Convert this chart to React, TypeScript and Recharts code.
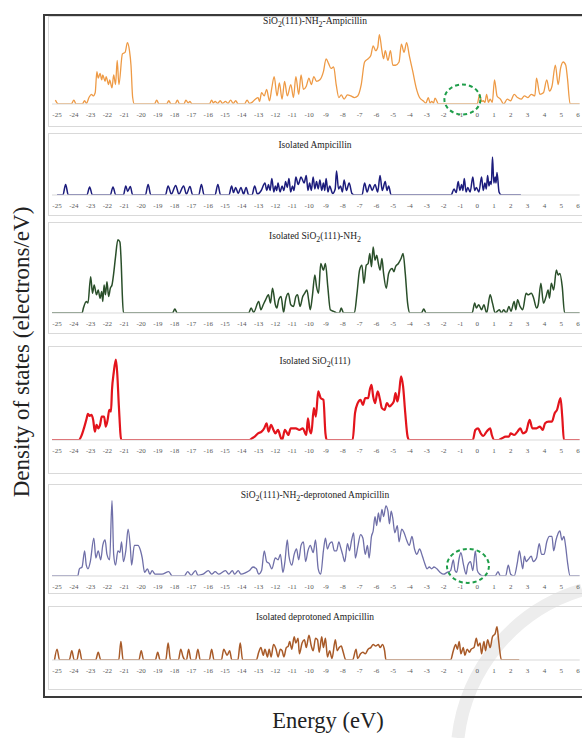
import { LineChart, Line, XAxis, YAxis, ReferenceDot } from 'recharts';

type Pt = [number, number];

/* ─── Energy axis ─────────────────────────────────────────────────────────── */

const ENERGY_TICKS = [
  -25, -24, -23, -22, -21, -20, -19, -18, -17, -16, -15, -14, -13, -12, -11, -10,
  -9, -8, -7, -6, -5, -4, -3, -2, -1, 0, 1, 2, 3, 4, 5, 6,
];
const E_MIN = -25.3;
const E_MAX = 6.1;

/* ─── DOS curves [energy eV, states] ─────────────────────────────────────── */

const complexDos: Pt[] = [
  [-25.1, 1.2], [-24.92, 0], [-24.15, 0], [-24.0, 1.2], [-23.87, 0], [-23.5, 0], [-23.36, 1.0], [-23.25, 0.2],
  [-23.1, 2.0], [-22.95, 3.0], [-22.85, 2.5], [-22.73, 3.5], [-22.63, 10.0], [-22.55, 8.0], [-22.44, 9.5],
  [-22.34, 7.5], [-22.28, 9.0], [-22.14, 7.0], [-22.08, 8.5], [-21.93, 6.0], [-21.87, 7.5], [-21.73, 5.0],
  [-21.63, 9.0], [-21.52, 6.0], [-21.42, 13.5], [-21.32, 6.0], [-21.11, 15.5], [-20.95, 16.0], [-20.81, 19.0],
  [-20.69, 16.5], [-20.6, 12.0], [-20.5, 2.0], [-20.4, 0],
  [-19.2, 0], [-19.07, 1.2], [-18.94, 0], [-18.48, 0], [-18.35, 1.0], [-18.22, 0], [-17.97, 0], [-17.84, 1.2],
  [-17.71, 0], [-17.45, 0], [-17.33, 1.2], [-17.2, 0.3], [-17.09, 0.8], [-16.97, 0],
  [-15.93, 0], [-15.8, 1.2], [-15.7, 0.3], [-15.59, 0.8], [-15.45, 0.2], [-15.29, 1.0], [-15.15, 0.2],
  [-14.98, 0.8], [-14.83, 0.2], [-14.67, 1.2], [-14.52, 0.2], [-14.37, 1.0], [-14.22, 0], [-13.85, 0],
  [-13.69, 1.2], [-13.55, 0.2], [-13.4, 0.5], [-13.2, 1.5], [-13.04, 2.0], [-12.95, 0.8], [-12.83, 3.5],
  [-12.67, 2.5], [-12.53, 4.5], [-12.36, 1.0], [-12.22, 5.0], [-12.08, 8.5], [-11.91, 2.5], [-11.77, 6.5],
  [-11.61, 1.5], [-11.46, 7.0], [-11.3, 2.5], [-11.09, 6.0], [-10.93, 2.0], [-10.79, 8.5], [-10.62, 3.0],
  [-10.48, 9.0], [-10.34, 4.5], [-10.17, 5.5], [-10.01, 8.0], [-9.87, 6.0], [-9.72, 8.5], [-9.56, 7.0],
  [-9.36, 7.5], [-9.15, 10.0], [-8.99, 14.0], [-8.84, 12.5], [-8.7, 11.0], [-8.54, 11.5], [-8.39, 6.0],
  [-8.23, 2.0], [-8.09, 2.8], [-7.92, 1.5], [-7.72, 2.8], [-7.52, 2.5], [-7.31, 2.0], [-7.11, 2.5],
  [-6.9, 6.0], [-6.7, 13.0], [-6.49, 14.0], [-6.33, 15.0], [-6.19, 18.0], [-6.04, 16.5], [-5.92, 17.5],
  [-5.82, 21.5], [-5.67, 16.5], [-5.57, 14.0], [-5.47, 16.5], [-5.31, 13.5], [-5.16, 16.5], [-5.02, 12.0],
  [-4.86, 12.0], [-4.65, 13.0], [-4.51, 18.5], [-4.35, 16.0], [-4.2, 19.0], [-4.04, 15.0], [-3.83, 10.0],
  [-3.63, 5.0], [-3.43, 2.0], [-3.22, 1.0], [-3.05, 0.3], [-2.91, 2.0], [-2.8, 0.3], [-2.71, 0.8],
  [-2.6, 0.3], [-2.51, 1.8], [-2.3, 0],
  [0.0, 0], [0.15, 3.0], [0.26, 0.8], [0.36, 1.0], [0.46, 0.5], [0.56, 3.0], [0.67, 0.5], [0.77, 1.5],
  [0.9, 0.5], [1.03, 7.5], [1.18, 2.5], [1.38, 1.5], [1.58, 0], [1.79, 1.5], [1.99, 1.0], [2.2, 3.0],
  [2.4, 2.0], [2.61, 1.5], [2.81, 2.5], [3.02, 2.0], [3.22, 3.0], [3.43, 2.5], [3.53, 8.0], [3.73, 3.0],
  [3.94, 3.5], [4.14, 7.5], [4.3, 4.0], [4.45, 5.5], [4.65, 12.0], [4.82, 6.0], [4.96, 11.0], [5.12, 13.0],
  [5.27, 12.0], [5.37, 8.0], [5.53, 0], [6.1, 0],
];

const ampicillinDos: Pt[] = [
  [-25, 0], [-24.65, 0], [-24.49, 3.5], [-24.33, 0], [-23.22, 0], [-23.06, 2.7], [-22.9, 0], [-21.83, 0],
  [-21.67, 2.7], [-21.51, 0], [-21.05, 0], [-20.91, 3.0], [-20.8, 1.2], [-20.64, 2.8], [-20.5, 0],
  [-19.74, 0], [-19.58, 3.5], [-19.42, 0], [-18.55, 0], [-18.39, 3.0], [-18.2, 0.3], [-17.94, 3.2],
  [-17.75, 0.3], [-17.47, 3.0], [-17.3, 0.3], [-17.09, 2.8], [-16.93, 0], [-16.57, 0], [-16.41, 3.5],
  [-16.25, 0], [-15.6, 0], [-15.43, 3.5], [-15.27, 0], [-14.77, 0], [-14.61, 3.0], [-14.5, 0.8],
  [-14.37, 2.5], [-14.22, 0.5], [-14.06, 2.5], [-13.9, 0.3], [-13.75, 2.5], [-13.6, 0], [-13.4, 0],
  [-13.24, 3.0], [-13.08, 0.3], [-12.85, 1.5], [-12.63, 4.0], [-12.52, 1.5], [-12.42, 3.5], [-12.32, 1.5],
  [-12.22, 5.5], [-12.1, 1.0], [-12.01, 3.0], [-11.93, 1.5], [-11.85, 4.0], [-11.73, 1.0], [-11.61, 3.0],
  [-11.5, 1.5], [-11.4, 4.5], [-11.3, 2.5], [-11.2, 5.5], [-11.1, 1.0], [-10.99, 3.0], [-10.9, 1.5],
  [-10.79, 6.0], [-10.65, 3.5], [-10.48, 6.0], [-10.3, 4.0], [-10.17, 6.5], [-10.07, 1.5], [-9.97, 4.0],
  [-9.87, 1.5], [-9.76, 6.0], [-9.66, 2.0], [-9.56, 4.5], [-9.46, 2.0], [-9.36, 5.0], [-9.25, 1.5],
  [-9.15, 4.0], [-9.07, 1.5], [-8.99, 5.5], [-8.88, 1.0], [-8.78, 3.0], [-8.6, 0.5], [-8.45, 2.0],
  [-8.37, 8.0], [-8.25, 2.0], [-8.13, 3.0], [-8.02, 1.0], [-7.92, 5.0], [-7.78, 1.5], [-7.62, 4.0],
  [-7.45, 0.5], [-7.3, 0], [-6.85, 0], [-6.7, 4.0], [-6.55, 1.0], [-6.39, 3.5], [-6.25, 1.5], [-6.08, 3.5],
  [-5.92, 1.0], [-5.78, 6.5], [-5.65, 1.5], [-5.47, 4.5], [-5.37, 1.5], [-5.27, 3.0], [-5.12, 0],
  [-1.55, 0], [-1.38, 2.0], [-1.25, 0.8], [-1.13, 4.5], [-1.03, 1.5], [-0.93, 3.5], [-0.85, 1.5],
  [-0.77, 5.5], [-0.66, 1.0], [-0.56, 2.5], [-0.42, 1.0], [-0.26, 6.0], [-0.15, 1.5], [-0.05, 2.5],
  [0.1, 1.0], [0.26, 6.0], [0.36, 1.5], [0.46, 4.0], [0.54, 2.0], [0.62, 6.5], [0.7, 3.0], [0.77, 4.5],
  [0.84, 3.5], [0.91, 12.7], [0.99, 4.0], [1.07, 6.0], [1.12, 4.0], [1.18, 7.5], [1.3, 1.0], [1.44, 0],
  [2.6, 0],
];

const surfaceNh2Dos: Pt[] = [
  [-25.3, 0], [-23.51, 0], [-23.43, 1.5], [-23.26, 3.5], [-23.16, 3.0], [-23.0, 11.0], [-22.89, 6.0],
  [-22.79, 8.5], [-22.65, 5.5], [-22.55, 7.0], [-22.44, 4.5], [-22.34, 6.5], [-22.28, 3.5], [-22.2, 8.5],
  [-22.12, 5.5], [-22.03, 9.5], [-21.93, 5.0], [-21.83, 7.5], [-21.73, 8.5], [-21.63, 12.0], [-21.52, 17.0],
  [-21.38, 22.2], [-21.26, 21.5], [-21.18, 15.0], [-21.12, 6.0], [-21.05, 0],
  [-18.13, 0], [-17.99, 1.2], [-17.85, 0], [-13.6, 0], [-13.45, 1.5], [-13.3, 0.2], [-13.0, 3.5],
  [-12.87, 1.0], [-12.73, 2.5], [-12.59, 4.0], [-12.42, 5.5], [-12.3, 3.0], [-12.18, 7.5], [-12.01, 2.5],
  [-11.92, 1.5], [-11.81, 4.0], [-11.67, 5.0], [-11.52, 0.2], [-11.4, 4.0], [-11.24, 6.0], [-11.09, 2.5],
  [-10.93, 2.0], [-10.79, 5.0], [-10.69, 5.5], [-10.54, 2.0], [-10.38, 5.0], [-10.26, 6.0], [-10.13, 7.0],
  [-10.03, 4.0], [-9.93, 1.0], [-9.81, 5.0], [-9.66, 11.5], [-9.56, 8.0], [-9.44, 6.0], [-9.31, 15.0],
  [-9.15, 13.0], [-9.03, 15.0], [-8.89, 8.0], [-8.74, 1.0], [-8.54, 0.5], [-8.33, 0], [-8.2, 0],
  [-8.09, 1.5], [-7.95, 0], [-7.31, 0], [-7.15, 6.0], [-7.0, 13.0], [-6.86, 14.5], [-6.74, 9.0],
  [-6.6, 14.5], [-6.49, 15.0], [-6.39, 18.0], [-6.29, 14.0], [-6.19, 20.0], [-6.08, 16.0], [-5.98, 17.5],
  [-5.88, 15.0], [-5.78, 13.0], [-5.67, 16.5], [-5.57, 12.0], [-5.41, 7.5], [-5.27, 12.0], [-5.06, 13.5],
  [-4.96, 12.5], [-4.86, 14.0], [-4.69, 15.0], [-4.53, 16.5], [-4.41, 18.0], [-4.28, 12.0], [-4.14, 3.0],
  [-4.0, 0], [-3.32, 0], [-3.18, 1.2], [-3.04, 0], [-0.3, 0], [-0.15, 3.0], [-0.05, 1.5], [0.09, 2.5],
  [0.26, 1.0], [0.4, 2.5], [0.56, 0], [0.77, 5.5], [0.91, 3.0], [1.07, 0], [1.32, 1.0], [1.44, 0],
  [1.58, 1.0], [1.73, 0], [1.89, 2.0], [2.01, 0.5], [2.2, 3.5], [2.3, 1.0], [2.4, 4.0], [2.55, 2.0],
  [2.71, 1.0], [2.91, 6.0], [3.02, 5.5], [3.22, 6.0], [3.36, 4.5], [3.53, 1.5], [3.63, 2.5], [3.79, 9.0],
  [3.94, 3.0], [4.1, 5.0], [4.22, 7.0], [4.3, 4.5], [4.41, 9.0], [4.55, 7.0], [4.71, 13.0], [4.82, 11.5],
  [4.92, 12.0], [5.06, 8.0], [5.2, 0], [6.1, 0],
];

const surfaceDos: Pt[] = [
  [-25.3, 0], [-23.71, 0], [-23.57, 1.0], [-23.43, 3.0], [-23.26, 6.0], [-23.16, 7.8], [-23.06, 7.2],
  [-22.96, 7.5], [-22.85, 6.0], [-22.75, 2.5], [-22.65, 4.5], [-22.55, 3.5], [-22.44, 4.5], [-22.34, 7.0],
  [-22.2, 7.0], [-22.1, 4.0], [-21.99, 6.0], [-21.89, 9.0], [-21.79, 8.5], [-21.73, 15.0], [-21.63, 20.0],
  [-21.5, 24.0], [-21.42, 20.0], [-21.32, 10.0], [-21.18, 0],
  [-13.55, 0], [-13.4, 0.5], [-13.24, 1.0], [-13.04, 2.0], [-12.83, 2.5], [-12.67, 3.5], [-12.53, 5.0],
  [-12.42, 2.5], [-12.26, 4.5], [-12.12, 3.0], [-12.01, 2.0], [-11.85, 3.0], [-11.71, 1.0], [-11.61, 0],
  [-11.44, 3.0], [-11.36, 2.5], [-11.24, 1.5], [-11.09, 3.5], [-10.79, 3.5], [-10.58, 3.0], [-10.38, 3.5],
  [-10.17, 1.5], [-10.07, 6.5], [-9.97, 3.0], [-9.87, 2.0], [-9.72, 9.5], [-9.6, 7.0], [-9.46, 14.5],
  [-9.31, 12.5], [-9.15, 12.0], [-9.03, 2.0], [-8.95, 0],
  [-7.41, 0], [-7.27, 8.0], [-7.11, 11.0], [-6.94, 12.0], [-6.8, 10.5], [-6.66, 12.5], [-6.49, 12.5],
  [-6.39, 15.0], [-6.29, 16.5], [-6.19, 13.0], [-6.08, 11.0], [-5.92, 14.5], [-5.78, 12.0], [-5.67, 9.5],
  [-5.51, 9.0], [-5.37, 11.0], [-5.22, 10.0], [-5.1, 10.5], [-4.96, 11.5], [-4.86, 14.0], [-4.75, 11.5],
  [-4.65, 14.0], [-4.53, 19.0], [-4.41, 16.0], [-4.28, 8.0], [-4.14, 1.0], [-4.04, 0],
  [-0.26, 0], [-0.11, 3.0], [0.05, 3.5], [0.21, 2.0], [0.36, 1.2], [0.56, 2.5], [0.77, 3.5], [0.87, 1.5],
  [1.03, 0], [1.28, 0], [1.48, 0.5], [1.69, 1.0], [1.89, 1.0], [1.99, 2.0], [2.2, 1.5], [2.4, 2.5],
  [2.57, 3.5], [2.71, 2.0], [2.91, 2.5], [3.12, 6.0], [3.28, 3.5], [3.53, 3.5], [3.73, 4.0], [3.9, 3.0],
  [4.04, 5.0], [4.24, 5.5], [4.45, 5.5], [4.61, 8.0], [4.75, 9.0], [4.96, 12.5], [5.06, 7.0], [5.16, 0],
  [6.1, 0],
];

const complexDeprotDos: Pt[] = [
  [-25.3, 0], [-23.77, 0], [-23.67, 2.0], [-23.51, 2.5], [-23.36, 7.0], [-23.26, 3.0], [-23.16, 2.0],
  [-23.02, 4.0], [-22.81, 10.5], [-22.69, 5.0], [-22.55, 7.0], [-22.4, 4.5], [-22.28, 8.5], [-22.14, 10.0],
  [-22.03, 6.0], [-21.87, 4.5], [-21.73, 20.9], [-21.63, 6.0], [-21.52, 3.0], [-21.38, 7.0], [-21.26, 6.5],
  [-21.16, 9.5], [-21.05, 4.0], [-20.91, 7.0], [-20.77, 13.0], [-20.64, 8.0], [-20.56, 3.0], [-20.4, 8.5],
  [-20.19, 8.5], [-20.03, 7.0], [-19.93, 5.0], [-19.79, 1.0], [-19.62, 2.0], [-19.48, 0.5], [-19.34, 1.5],
  [-19.17, 0.5], [-18.97, 0.5], [-18.76, 0.5], [-18.35, 1.2], [-18.15, 0], [-17.43, 0], [-17.23, 1.2],
  [-17.02, 0.2], [-16.76, 1.5], [-16.62, 0.2], [-16.31, 0.5], [-16.0, 1.5], [-15.8, 0.5], [-15.59, 1.2],
  [-15.39, 0.5], [-14.98, 1.5], [-14.78, 0.5], [-14.57, 1.5], [-14.43, 0.5], [-14.22, 1.5], [-14.06, 0.5],
  [-13.75, 1.0], [-13.55, 1.5], [-13.34, 2.5], [-13.14, 2.0], [-13.0, 0.5], [-12.83, 1.5], [-12.67, 7.0],
  [-12.53, 4.0], [-12.38, 3.5], [-12.22, 2.0], [-12.01, 5.0], [-11.85, 4.5], [-11.71, 6.0], [-11.56, 1.0],
  [-11.44, 4.0], [-11.3, 10.0], [-11.2, 5.5], [-11.03, 3.0], [-10.89, 6.0], [-10.75, 7.5], [-10.62, 4.5],
  [-10.48, 8.5], [-10.34, 9.5], [-10.21, 4.0], [-10.07, 7.0], [-9.93, 8.5], [-9.76, 6.5], [-9.62, 10.0],
  [-9.46, 2.0], [-9.31, 0.5], [-9.15, 7.0], [-9.03, 10.5], [-8.91, 7.5], [-8.78, 9.0], [-8.64, 9.5],
  [-8.5, 7.0], [-8.37, 7.0], [-8.23, 9.5], [-8.13, 8.0], [-8.01, 6.0], [-7.88, 4.0], [-7.72, 9.0],
  [-7.6, 7.0], [-7.47, 10.0], [-7.35, 12.0], [-7.25, 5.0], [-7.11, 8.0], [-6.94, 11.5], [-6.8, 10.5],
  [-6.66, 6.0], [-6.53, 8.5], [-6.43, 5.0], [-6.29, 11.0], [-6.19, 12.5], [-6.08, 16.5], [-5.98, 14.0],
  [-5.88, 17.5], [-5.78, 15.0], [-5.67, 18.5], [-5.57, 16.5], [-5.43, 19.5], [-5.31, 18.0], [-5.22, 14.5],
  [-5.12, 18.0], [-5.02, 16.0], [-4.9, 12.0], [-4.75, 14.0], [-4.65, 9.5], [-4.49, 13.0], [-4.35, 12.0],
  [-4.2, 10.0], [-4.04, 8.5], [-3.88, 11.0], [-3.73, 7.5], [-3.59, 6.0], [-3.43, 7.5], [-3.26, 5.5],
  [-3.12, 3.5], [-2.98, 2.0], [-2.85, 2.5], [-2.71, 2.0], [-2.57, 2.5], [-2.4, 2.0], [-2.2, 1.0],
  [-1.99, 0.5], [-1.79, 1.0], [-1.58, 1.5], [-1.42, 4.5], [-1.32, 1.5], [-1.22, 1.0], [-1.07, 5.0],
  [-0.97, 6.5], [-0.81, 3.0], [-0.66, 0.5], [-0.56, 3.0], [-0.4, 4.0], [-0.26, 1.5], [-0.11, 7.0],
  [0.01, 1.5], [0.15, 0.5], [0.36, 0], [1.07, 0], [1.24, 1.2], [1.38, 0], [1.69, 0], [1.85, 3.0],
  [1.99, 0.5], [2.2, 0], [2.4, 4.0], [2.51, 7.0], [2.61, 4.5], [2.71, 2.0], [2.81, 5.5], [2.91, 4.0],
  [3.02, 4.5], [3.22, 5.5], [3.33, 4.0], [3.53, 5.0], [3.69, 9.0], [3.83, 6.0], [3.98, 6.0], [4.14, 9.5],
  [4.3, 11.0], [4.45, 11.0], [4.55, 7.0], [4.69, 10.0], [4.92, 12.5], [5.04, 10.0], [5.16, 11.0],
  [5.27, 8.0], [5.37, 4.0], [5.53, 0], [6.1, 0],
];

const deprotAmpicillinDos: Pt[] = [
  [-25.15, 0], [-25.0, 3.5], [-24.85, 0], [-24.27, 0], [-24.12, 3.0], [-23.98, 0], [-23.82, 0],
  [-23.67, 3.5], [-23.52, 0], [-22.7, 0], [-22.55, 2.5], [-22.4, 0], [-21.33, 0], [-21.2, 6.0],
  [-21.07, 0], [-20.13, 0], [-19.99, 3.0], [-19.85, 0], [-19.15, 0], [-19.01, 2.5], [-18.87, 0],
  [-18.53, 0], [-18.39, 5.5], [-18.25, 0], [-17.78, 0], [-17.64, 3.5], [-17.5, 1.0], [-17.38, 0],
  [-17.3, 0], [-17.17, 3.5], [-17.03, 0], [-16.76, 0], [-16.62, 3.5], [-16.48, 0], [-15.94, 0],
  [-15.8, 3.5], [-15.66, 0], [-15.22, 0], [-15.08, 3.5], [-14.98, 2.5], [-14.88, 1.5], [-14.73, 3.0],
  [-14.6, 0], [-14.24, 0], [-14.1, 5.5], [-13.96, 0], [-13.14, 0], [-13.0, 2.5], [-12.87, 4.0],
  [-12.73, 1.5], [-12.63, 3.5], [-12.48, 1.0], [-12.38, 3.5], [-12.26, 1.0], [-12.12, 5.0], [-11.97, 3.5],
  [-11.85, 1.0], [-11.71, 3.5], [-11.61, 3.0], [-11.5, 1.0], [-11.36, 4.0], [-11.24, 4.5], [-11.16, 6.0],
  [-11.03, 3.5], [-10.89, 7.5], [-10.79, 5.5], [-10.66, 7.0], [-10.58, 2.0], [-10.42, 5.5], [-10.28, 6.5],
  [-10.17, 4.0], [-10.01, 8.0], [-9.87, 4.5], [-9.76, 3.0], [-9.62, 7.0], [-9.5, 6.5], [-9.4, 2.5],
  [-9.25, 7.5], [-9.15, 4.0], [-9.03, 7.0], [-8.91, 1.0], [-8.78, 3.0], [-8.64, 0.5], [-8.44, 6.5],
  [-8.33, 3.0], [-8.21, 4.0], [-8.09, 4.5], [-7.97, 2.5], [-7.82, 0], [-7.41, 0], [-7.21, 3.5],
  [-7.11, 0.5], [-6.94, 2.0], [-6.8, 2.5], [-6.66, 2.0], [-6.49, 3.5], [-6.33, 4.0], [-6.19, 5.0],
  [-6.04, 4.5], [-5.88, 5.0], [-5.78, 4.0], [-5.63, 5.0], [-5.51, 3.0], [-5.43, 0],
  [-1.58, 0], [-1.42, 3.0], [-1.28, 5.0], [-1.18, 3.5], [-1.07, 6.0], [-0.97, 2.0], [-0.83, 4.0],
  [-0.73, 1.5], [-0.6, 3.5], [-0.46, 2.5], [-0.36, 3.5], [-0.19, 4.0], [-0.05, 7.0], [0.05, 4.5],
  [0.17, 5.5], [0.26, 2.0], [0.4, 6.0], [0.5, 3.0], [0.62, 6.5], [0.77, 4.0], [0.91, 7.5], [1.07, 8.5],
  [1.18, 10.7], [1.28, 6.0], [1.44, 0], [2.5, 0],
];

/* ─── Panels ─────────────────────────────────────────────────────────────── */

const PLOT_LEFT = 52;
const PX_PER_EV = 16.806;
const CHART_LEFT = 48;
const CHART_W = 545;

type Ring = { e: number; v: number; rx: number; ry: number };

const PANELS: {
  title: React.ReactNode; data: Pt[]; color: string; sw: number;
  top: number; bottom: number; baseline: number; pxPerUnit: number; titleTop: number; ring?: Ring;
}[] = [
  {
    title: <>SiO<sub>2</sub>(111)-NH<sub>2</sub>-Ampicillin</>,
    data: complexDos, color: '#EE9A45', sw: 1.3,
    top: 16, bottom: 127, baseline: 104, pxPerUnit: 3.23, titleTop: 15,
    ring: { e: -0.88, v: 1.4, rx: 18, ry: 15 },
  },
  {
    title: 'Isolated Ampicillin',
    data: ampicillinDos, color: '#1C1C7C', sw: 1.5,
    top: 133, bottom: 216, baseline: 195, pxPerUnit: 3.0, titleTop: 139,
  },
  {
    title: <>Isolated SiO<sub>2</sub>(111)-NH<sub>2</sub></>,
    data: surfaceNh2Dos, color: '#2A4F2A', sw: 1.5,
    top: 222, bottom: 334, baseline: 313, pxPerUnit: 3.3, titleTop: 230,
  },
  {
    title: <>Isolated SiO<sub>2</sub>(111)</>,
    data: surfaceDos, color: '#E3141C', sw: 2.2,
    top: 346, bottom: 474, baseline: 440, pxPerUnit: 3.35, titleTop: 355,
  },
  {
    title: <>SiO<sub>2</sub>(111)-NH<sub>2</sub>-deprotoned Ampicillin</>,
    data: complexDeprotDos, color: '#6F6FA8', sw: 1.3,
    top: 484, bottom: 594, baseline: 576, pxPerUnit: 3.6, titleTop: 489,
    ring: { e: -0.55, v: 2.8, rx: 21, ry: 17 },
  },
  {
    title: 'Isolated deprotoned Ampicillin',
    data: deprotAmpicillinDos, color: '#A85A28', sw: 1.5,
    top: 606, bottom: 690, baseline: 660, pxPerUnit: 3.1, titleTop: 611,
  },
];

const SERIF = '"Liberation Serif", "Times New Roman", serif';

function DosPanel({ p }: { p: (typeof PANELS)[number] }) {
  const h = p.bottom - p.top;
  const marginTop = 2;
  const plotH = p.baseline - p.top - marginTop;
  const yMax = plotH / p.pxPerUnit;
  const plotW = (E_MAX - E_MIN) * PX_PER_EV;
  const left = PLOT_LEFT - CHART_LEFT;
  const data = p.data.map(([e, v]) => ({ e, v }));

  return (
    <>
      <div style={{
        position: 'absolute', left: CHART_LEFT, top: p.top, width: 560, height: h,
        border: '1px solid #d9d9d9', boxSizing: 'border-box',
      }} />
      <div style={{ position: 'absolute', left: CHART_LEFT, top: p.top, width: 534, height: h }}>
        <LineChart width={CHART_W} height={h} data={data}
          margin={{ top: marginTop, left, right: CHART_W - left - plotW, bottom: 0 }}>
          <XAxis dataKey="e" type="number" domain={[E_MIN, E_MAX]} ticks={ENERGY_TICKS}
            allowDataOverflow interval={0} height={p.bottom - p.baseline}
            axisLine={{ stroke: '#d9d9d9' }} tickLine={false}
            tick={{ fill: '#595959', fontSize: 7, fontFamily: SERIF }} />
          <YAxis hide type="number" domain={[0, yMax]} allowDataOverflow />
          <Line type="monotone" dataKey="v" stroke={p.color} strokeWidth={p.sw}
            dot={false} isAnimationActive={false} />
          {p.ring && (
            <ReferenceDot x={p.ring.e} y={p.ring.v} r={0} ifOverflow="visible"
              shape={(s: any) => (
                <ellipse cx={s.cx} cy={s.cy} rx={p.ring!.rx} ry={p.ring!.ry} fill="none"
                  stroke="#1f9e4a" strokeWidth={2} strokeDasharray="4 3" />
              )} />
          )}
        </LineChart>
      </div>
      <div style={{
        position: 'absolute', left: CHART_LEFT, width: 534, top: p.titleTop,
        textAlign: 'center', fontFamily: SERIF, fontSize: 9.5, color: '#222', lineHeight: '12px',
      }}>
        {p.title}
      </div>
    </>
  );
}

export default function App() {
  return (
    <div style={{
      position: 'absolute', left: 0, top: 0, width: 582, height: 738, overflow: 'hidden',
      background: '#fff', fontFamily: SERIF,
    }}>
      {/* faint watermark arc behind the figure */}
      <svg width={582} height={738} style={{ position: 'absolute', left: 0, top: 0 }}>
        <path d="M 582 590 A 175 175 0 0 0 458 738" fill="none" stroke="#ededed" strokeWidth={13} />
      </svg>
      <div style={{
        position: 'absolute', left: 43, top: 14, width: 620, height: 684,
        border: '2px solid #3a3a3a', boxSizing: 'border-box',
      }} />
      {PANELS.map((p, i) => <DosPanel key={i} p={p} />)}
      <div style={{
        position: 'absolute', left: 228, top: 707, width: 200, textAlign: 'center',
        fontSize: 22.5, color: '#222', lineHeight: '28px',
      }}>
        Energy (eV)
      </div>
      <div style={{
        position: 'absolute', left: 22, top: 352, transform: 'translate(-50%, -50%) rotate(-90deg)',
        whiteSpace: 'nowrap', fontSize: 23, color: '#222', lineHeight: '28px',
      }}>
        Density of states (electrons/eV)
      </div>
    </div>
  );
}
